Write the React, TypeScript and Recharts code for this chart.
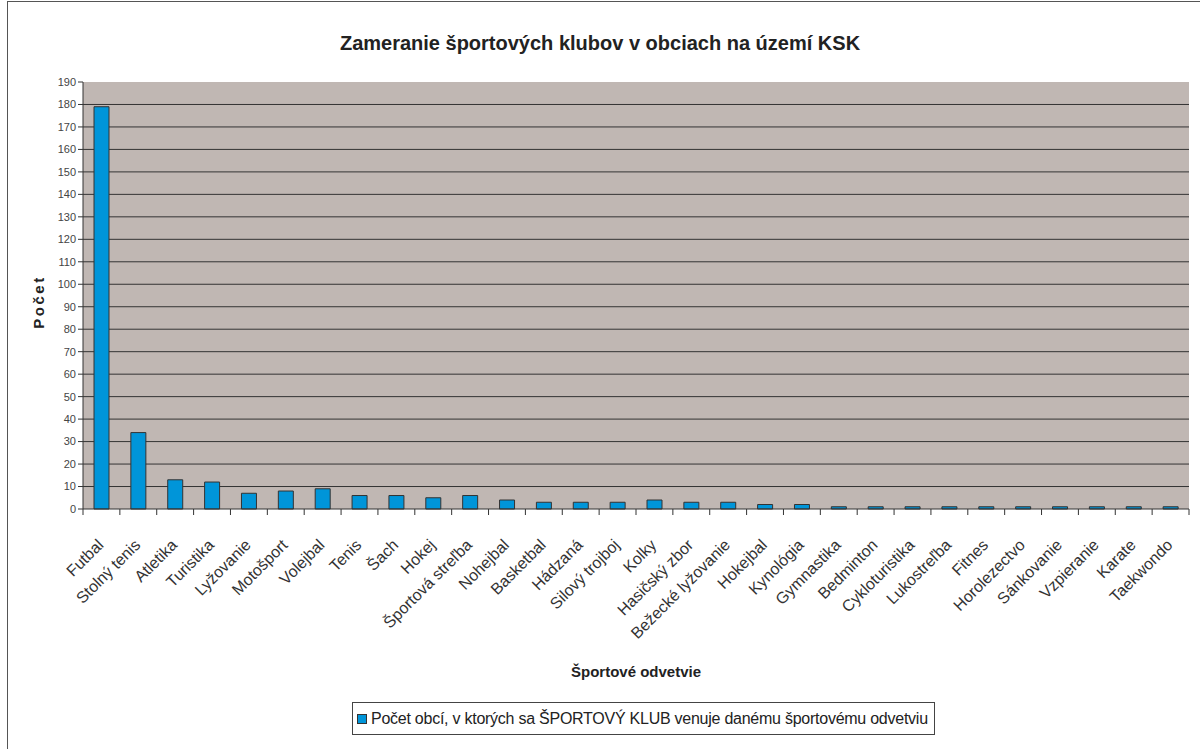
import { BarChart, Bar, XAxis, YAxis, CartesianGrid, Legend } from 'recharts';

const sports = [
  'Futbal', 'Stolný tenis', 'Atletika', 'Turistika', 'Lyžovanie', 'Motošport', 'Volejbal', 'Tenis',
  'Šach', 'Hokej', 'Športová streľba', 'Nohejbal', 'Basketbal', 'Hádzaná', 'Silový trojboj', 'Kolky',
  'Hasičský zbor', 'Bežecké lyžovanie', 'Hokejbal', 'Kynológia', 'Gymnastika', 'Bedminton',
  'Cykloturistika', 'Lukostreľba', 'Fitnes', 'Horolezectvo', 'Sánkovanie', 'Vzpieranie', 'Karate', 'Taekwondo',
];
const counts = [179, 34, 13, 12, 7, 8, 9, 6, 6, 5, 6, 4, 3, 3, 3, 4, 3, 3, 2, 2, 1, 1, 1, 1, 1, 1, 1, 1, 1, 1];
const yTicks = [0, 10, 20, 30, 40, 50, 60, 70, 80, 90, 100, 110, 120, 130, 140, 150, 160, 170, 180, 190];

const seriesName = 'Počet obcí, v ktorých sa ŠPORTOVÝ KLUB venuje danému športovému odvetviu';

const data = sports.map((name, i) => ({ name, value: counts[i] }));

const PLOT_LEFT = 83;
const PLOT_RIGHT = 1189;
const BAND = (PLOT_RIGHT - PLOT_LEFT) / sports.length;
const FONT = '"Liberation Sans", Arial, sans-serif';

// x labels: rotated 45°, ending under the bar
function SportTick(props: any) {
  const { x, y, payload, index } = props;
  const axisY = y - 8;
  return (
    <g>
      {index === 0 && <line x1={x - BAND / 2} x2={x - BAND / 2} y1={axisY} y2={axisY + 6} stroke="#333" />}
      <line x1={x + BAND / 2} x2={x + BAND / 2} y1={axisY} y2={axisY + 6} stroke="#333" />
      <text
        transform={`translate(${x + 3},${axisY + 37}) rotate(-45)`}
        textAnchor="end"
        fontSize={16}
        fontFamily={FONT}
        fill="#333"
      >
        {payload.value}
      </text>
    </g>
  );
}

function LegendBox() {
  return (
    <div
      style={{
        position: 'absolute',
        left: 352,
        top: 702,
        width: 583,
        height: 33,
        border: '1px solid #444',
        boxSizing: 'border-box',
        display: 'flex',
        alignItems: 'center',
        paddingLeft: 4,
        fontFamily: FONT,
        fontSize: 16,
        letterSpacing: -0.25,
        color: '#222',
        whiteSpace: 'nowrap',
      }}
    >
      <span
        style={{
          display: 'inline-block',
          flexShrink: 0,
          width: 8,
          height: 8,
          background: '#0095D9',
          border: '1px solid #333',
          marginRight: 4,
        }}
      />
      {seriesName}
    </div>
  );
}

export default function App() {
  return (
    <div style={{ position: 'absolute', left: 0, top: 0, width: 1200, height: 749, background: '#fff', overflow: 'hidden' }}>
      <div
        style={{
          position: 'absolute',
          left: 7,
          top: 1,
          width: 1200,
          height: 760,
          border: '1px solid #555',
          boxSizing: 'border-box',
        }}
      />
      <div
        style={{
          position: 'absolute',
          left: 0,
          top: 32,
          width: 1200,
          textAlign: 'center',
          fontFamily: FONT,
          fontWeight: 'bold',
          fontSize: 20,
          color: '#222',
        }}
      >
        Zameranie športových klubov v obciach na území KSK
      </div>
      <div
        style={{
          position: 'absolute',
          left: 38,
          top: 302,
          transform: 'translate(-50%, -50%) rotate(-90deg)',
          fontFamily: FONT,
          fontWeight: 'bold',
          fontSize: 15,
          letterSpacing: 2.5,
          color: '#222',
        }}
      >
        Počet
      </div>
      <div
        style={{
          position: 'absolute',
          left: PLOT_LEFT,
          width: PLOT_RIGHT - PLOT_LEFT,
          top: 663,
          textAlign: 'center',
          fontFamily: FONT,
          fontWeight: 'bold',
          fontSize: 15,
          color: '#222',
        }}
      >
        Športové odvetvie
      </div>
      <LegendBox />
      <div style={{ position: 'absolute', left: 0, top: 0 }}>
        <BarChart
          width={1200}
          height={749}
          data={data}
          margin={{ top: 82, right: 11, bottom: 90, left: 43 }}
          barSize={15}
        >
          <CartesianGrid
            vertical={false}
            fill="#C0B7B3"
            fillOpacity={1}
            stroke="#333"
            horizontalValues={yTicks.slice(1, -1)}
          />
          <XAxis
            dataKey="name"
            interval={0}
            tickLine={false}
            axisLine={{ stroke: '#333' }}
            tick={<SportTick />}
            height={150}
          />
          <YAxis
            domain={[0, 190]}
            ticks={yTicks}
            interval={0}
            width={40}
            tickSize={5}
            tickMargin={2}
            tickLine={{ stroke: '#333' }}
            axisLine={{ stroke: '#333' }}
            tick={{ fontSize: 11, fill: '#444', fontFamily: FONT }}
          />
          <YAxis
            yAxisId="right"
            orientation="right"
            width={0}
            tick={false}
            tickLine={false}
            axisLine={{ stroke: '#666' }}
          />
          <Bar dataKey="value" name={seriesName} fill="#0095D9" stroke="#333" strokeWidth={1} isAnimationActive={false} />
          <Legend content={() => null} />
        </BarChart>
      </div>
    </div>
  );
}
